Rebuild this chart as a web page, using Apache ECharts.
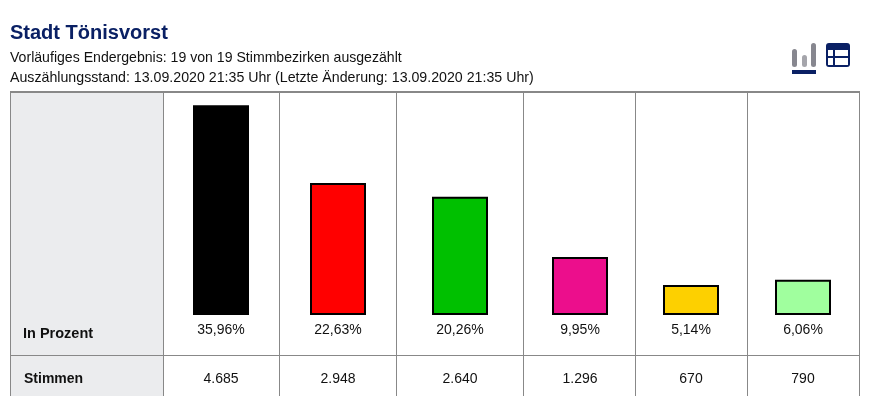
<!DOCTYPE html>
<html>
<head>
<meta charset="utf-8">
<title>Stadt Tönisvorst</title>
<style>
	html, body { margin: 0; padding: 0; background: #fff; }
	#canvas1 { width: 880px; height: 396px; }
</style>
</head>
<body>
<div id="canvas1"></div>
<script src="https://cdn.jsdelivr.net/npm/echarts@6/dist/echarts.min.js"></script>
<script>
var percentValues = [35.96, 22.63, 20.26, 9.95, 5.14, 6.06];
var percentLabels = ['35,96%', '22,63%', '20,26%', '9,95%', '5,14%', '6,06%'];
var voteLabels = ['4.685', '2.948', '2.640', '1.296', '670', '790'];
var barColors = ['#000000', '#ff0000', '#00c000', '#ec0e8c', '#fdd000', '#a0ff9e'];

// Spaltengrenzen der Tabelle und Mitte der Balken
var colEdges = [163, 279, 396, 523, 635, 747, 859];
var colCenters = [221, 338, 460, 580, 691, 803];
var lineColor = '#888888';
var font = '"Liberation Sans", Arial, sans-serif';
var navy = '#0a2064';

var grids = [], xAxes = [], yAxes = [], series = [], graphic = [];

function rect(x, y, w, h, color, r) {
	return { type: 'rect', silent: true, shape: { x: x, y: y, width: w, height: h, r: r || 0 }, style: { fill: color } };
}
function text(x, y, str, size, color, weight, align) {
	return {
		type: 'text', silent: true, x: x, y: y,
		style: { text: str, fill: color, font: (weight || 'normal') + ' ' + size + 'px ' + font, align: align || 'left', verticalAlign: 'middle' }
	};
}

// Kopfbereich
graphic.push(text(10, 33, 'Stadt Tönisvorst', 20, navy, 'bold'));
graphic.push(text(10, 58, 'Vorläufiges Endergebnis: 19 von 19 Stimmbezirken ausgezählt', 14.1, '#111111'));
graphic.push(text(10, 78, 'Auszählungsstand: 13.09.2020 21:35 Uhr (Letzte Änderung: 13.09.2020 21:35 Uhr)', 14.2, '#111111'));

// Icons
graphic.push(rect(792, 49, 5, 18, '#87878f', 2.5));
graphic.push(rect(802, 55, 5, 12, '#a5a5ab', 2.5));
graphic.push(rect(811, 43, 5, 24, '#87878f', 2.5));
graphic.push(rect(792, 70, 24, 4, navy));
graphic.push(rect(826, 43, 24, 24, navy, 3));
graphic.push(rect(828, 50, 5, 6, '#ffffff'));
graphic.push(rect(835, 50, 13, 6, '#ffffff'));
graphic.push(rect(828, 58, 5, 7, '#ffffff'));
graphic.push(rect(835, 58, 13, 7, '#ffffff'));

// Tabelle
graphic.push(rect(10, 92, 153, 304, '#ebecee'));
graphic.push(rect(10, 91, 850, 2, lineColor));
graphic.push(rect(10, 92, 1, 304, lineColor));
graphic.push(rect(10, 355, 850, 1, lineColor));
colEdges.forEach(function (x) {
	graphic.push(rect(x, 92, 1, 304, lineColor));
});
graphic.push(text(23, 334, 'In Prozent', 14.5, '#111111', 'bold'));
graphic.push(text(24, 379, 'Stimmen', 14, '#111111', 'bold'));

percentValues.forEach(function (val, i) {
	var left = colCenters[i] - 50;
	grids.push({ left: left, width: 100, top: 105, height: 210 });
	xAxes.push({
		type: 'category', gridIndex: i, data: [percentLabels[i]],
		axisLine: { show: false }, axisTick: { show: false },
		axisLabel: { color: '#111111', fontSize: 14, fontFamily: font, margin: 8, interval: 0 }
	});
	yAxes.push({ type: 'value', gridIndex: i, min: 0, max: 36, show: false, splitLine: { show: false } });
	series.push({
		type: 'bar', xAxisIndex: i, yAxisIndex: i, barWidth: 56, silent: true, animation: false,
		data: [val],
		itemStyle: { color: barColors[i], borderColor: '#000000', borderWidth: 2 }
	});
	graphic.push(text(colCenters[i], 379, voteLabels[i], 14, '#111111', 'normal', 'center'));
});

var myChart1 = echarts.init(document.getElementById('canvas1'), null, { renderer: 'canvas' });
myChart1.setOption({
	animation: false,
	backgroundColor: '#ffffff',
	tooltip: { show: false },
	grid: grids,
	xAxis: xAxes,
	yAxis: yAxes,
	series: series,
	graphic: { elements: graphic.map(function (g) { g.z = -1; return g; }) }
});
</script>
</body>
</html>
